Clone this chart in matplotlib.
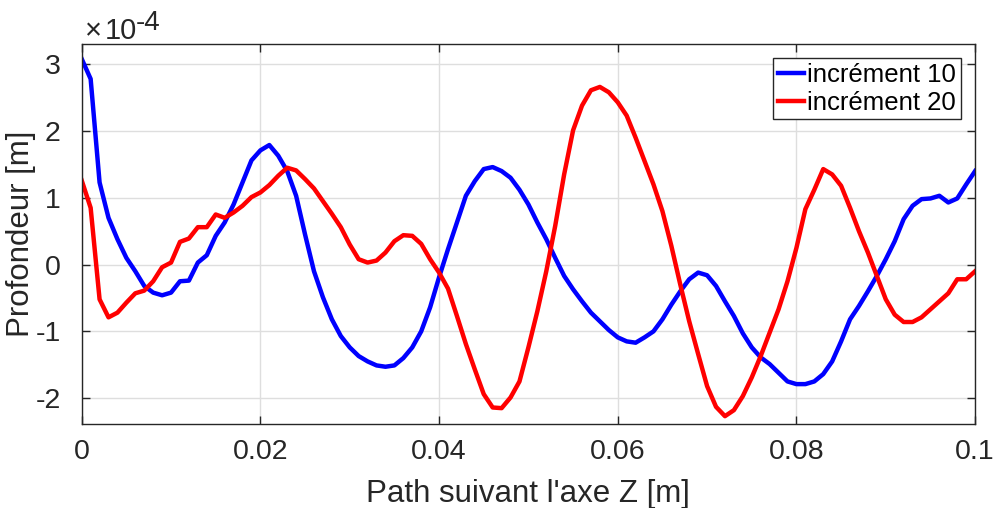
import matplotlib
matplotlib.use("Agg")
import matplotlib.pyplot as plt
import numpy as np

plt.rcParams["font.family"] = ["Liberation Sans", "DejaVu Sans"]
plt.rcParams["axes.unicode_minus"] = False

# profondeur en unites de 1e-4 m, un point tous les 1 mm
z = np.arange(101) * 0.001

inc10 = [3.08, 2.78, 1.23, 0.70, 0.38, 0.10, -0.10, -0.32, -0.42, -0.46,
         -0.42, -0.25, -0.24, 0.03, 0.14, 0.43, 0.63, 0.90, 1.23, 1.56,
         1.71, 1.79, 1.63, 1.40, 1.03, 0.45, -0.10, -0.49, -0.82, -1.07,
         -1.24, -1.37, -1.45, -1.51, -1.53, -1.51, -1.40, -1.24, -1.00, -0.64,
         -0.19, 0.23, 0.63, 1.03, 1.25, 1.43, 1.46, 1.40, 1.30, 1.12,
         0.90, 0.63, 0.38, 0.10, -0.17, -0.37, -0.55, -0.72, -0.85, -0.98,
         -1.09, -1.15, -1.17, -1.09, -1.00, -0.82, -0.60, -0.40, -0.22, -0.12,
         -0.16, -0.32, -0.55, -0.77, -1.03, -1.24, -1.39, -1.49, -1.62, -1.75,
         -1.79, -1.79, -1.75, -1.64, -1.45, -1.15, -0.82, -0.62, -0.40, -0.17,
         0.08, 0.35, 0.68, 0.88, 0.98, 0.99, 1.03, 0.93, 0.99, 1.20,
         1.40]

inc20 = [1.26, 0.85, -0.52, -0.79, -0.72, -0.57, -0.43, -0.39, -0.25, -0.04,
         0.03, 0.34, 0.39, 0.56, 0.56, 0.75, 0.70, 0.78, 0.88, 1.01,
         1.08, 1.19, 1.33, 1.45, 1.41, 1.28, 1.14, 0.95, 0.76, 0.56,
         0.30, 0.08, 0.03, 0.06, 0.18, 0.35, 0.44, 0.43, 0.31, 0.08,
         -0.12, -0.36, -0.77, -1.19, -1.57, -1.94, -2.14, -2.15, -1.99, -1.75,
         -1.24, -0.70, -0.10, 0.58, 1.35, 2.01, 2.38, 2.61, 2.66, 2.58,
         2.43, 2.23, 1.90, 1.55, 1.20, 0.80, 0.28, -0.30, -0.85, -1.34,
         -1.82, -2.13, -2.27, -2.18, -1.97, -1.69, -1.37, -1.02, -0.67, -0.25,
         0.25, 0.83, 1.12, 1.43, 1.35, 1.18, 0.85, 0.50, 0.18, -0.17,
         -0.52, -0.75, -0.86, -0.86, -0.79, -0.67, -0.55, -0.43, -0.22, -0.22,
         -0.10]

xticks = [0, 0.02, 0.04, 0.06, 0.08, 0.1]
xticklabels = ["0", "0.02", "0.04", "0.06", "0.08", "0.1"]
yticks = [-2, -1, 0, 1, 2, 3]
yticklabels = ["-2", "-1", "0", "1", "2", "3"]

fig = plt.figure(figsize=(9.94, 5.08), dpi=100)
ax = fig.add_axes([0.0822, 0.165, 0.8988, 0.748])

ax.plot(z, inc10, color="#0000ff", lw=3.2, label="incrément 10")
ax.plot(z, inc20, color="#ff0000", lw=3.2, label="incrément 20")

ax.set_xlim(0, 0.1)
ax.set_ylim(-2.39, 3.3)
ax.set_xticks(xticks)
ax.set_xticklabels(xticklabels)
ax.set_yticks(yticks)
ax.set_yticklabels(yticklabels)

ax.grid(True, color="#dedede", lw=1)
ax.set_axisbelow(True)
ax.tick_params(direction="in", length=6, width=1, colors="#262626",
               labelsize=20.5, top=True, right=True)
ax.tick_params(axis="x", pad=11)
ax.tick_params(axis="y", pad=15)
for s in ax.spines.values():
    s.set_color("#262626")
    s.set_linewidth(1)

ax.set_xlabel("Path suivant l'axe Z [m]", fontsize=22.5, color="#262626", labelpad=10)
ax.set_ylabel("Profondeur [m]", fontsize=22.5, color="#262626", labelpad=0)

# facteur d'echelle facon MATLAB
ax.text(0.004, 1.013, "×", transform=ax.transAxes, fontsize=21,
        color="#262626", ha="left", va="baseline")
ax.text(0.026, 1.013, "10", transform=ax.transAxes, fontsize=21,
        color="#262626", ha="left", va="baseline")
ax.text(0.061, 1.037, "-4", transform=ax.transAxes, fontsize=20,
        color="#262626", ha="left", va="baseline")

leg = ax.legend(loc="upper right", fontsize=18.5, handlelength=1.0,
                handletextpad=0.15, borderpad=0.18, labelspacing=0.15,
                borderaxespad=0.55, fancybox=False, framealpha=1)
leg.get_frame().set_edgecolor("#262626")
leg.get_frame().set_linewidth(1)

fig.savefig("out.png", dpi=100)
